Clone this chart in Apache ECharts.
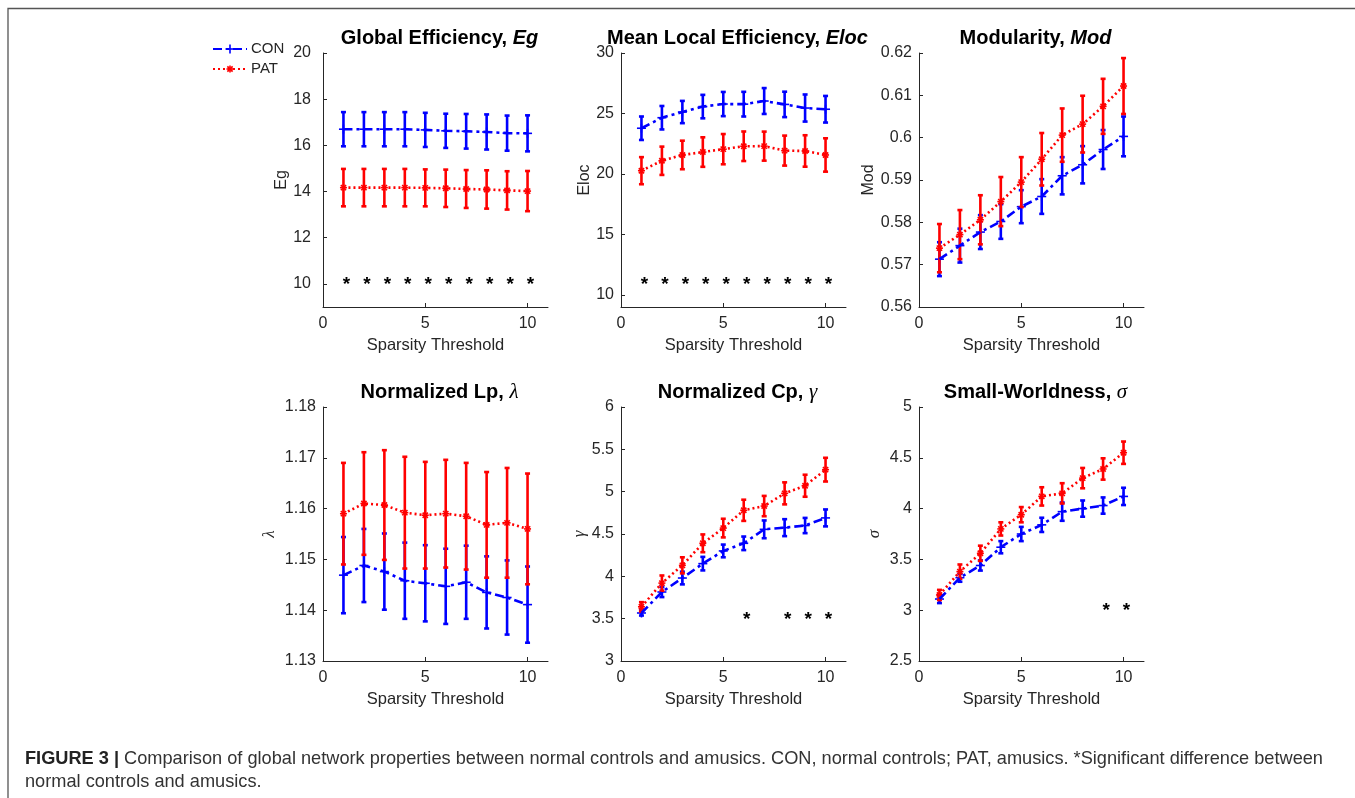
<!DOCTYPE html>
<html>
<head>
<meta charset="utf-8">
<script src="https://cdn.jsdelivr.net/npm/echarts@6/dist/echarts.min.js"></script>
<style>
  html, body { margin: 0; padding: 0; background: #fff; }
  #chart { width: 1355px; height: 798px; }
</style>
</head>
<body>
<div id="chart"></div>
<script>
// sparsity thresholds
const xs = [1, 2, 3, 4, 5, 6, 7, 8, 9, 10];

// Global efficiency
const egCon    = [16.70, 16.70, 16.70, 16.70, 16.67, 16.63, 16.61, 16.58, 16.53, 16.52];
const egConErr = [0.74, 0.74, 0.74, 0.74, 0.74, 0.74, 0.75, 0.76, 0.76, 0.78];
const egPat    = [14.17, 14.17, 14.17, 14.17, 14.16, 14.14, 14.11, 14.09, 14.05, 14.02];
const egPatErr = [0.81, 0.81, 0.81, 0.81, 0.80, 0.81, 0.82, 0.83, 0.83, 0.87];

// Mean local efficiency
const elocCon    = [23.78, 24.65, 25.12, 25.57, 25.78, 25.77, 26.03, 25.75, 25.45, 25.35];
const elocConErr = [0.97, 0.97, 0.92, 0.97, 1.00, 1.02, 1.07, 1.05, 1.12, 1.10];
const elocPat    = [20.27, 21.09, 21.57, 21.81, 22.05, 22.29, 22.30, 21.93, 21.90, 21.57];
const elocPatErr = [1.12, 1.17, 1.18, 1.22, 1.25, 1.22, 1.20, 1.24, 1.30, 1.38];

// Modularity
const modCon    = [0.5713, 0.5745, 0.5777, 0.5802, 0.5837, 0.5861, 0.5910, 0.5936, 0.5972, 0.6003];
const modConErr = [0.0040, 0.0040, 0.0040, 0.0041, 0.0039, 0.0041, 0.0044, 0.0044, 0.0046, 0.0047];
const modPat    = [0.5739, 0.5771, 0.5806, 0.5849, 0.5895, 0.5949, 0.6006, 0.6032, 0.6074, 0.6122];
const modPatErr = [0.0057, 0.0058, 0.0058, 0.0058, 0.0059, 0.0062, 0.0063, 0.0067, 0.0065, 0.0066];

// Normalized Lp (lambda)
const lamCon    = [1.1469, 1.1488, 1.1476, 1.1458, 1.1453, 1.1447, 1.1455, 1.1435, 1.1425, 1.1411];
const lamConErr = [0.0075, 0.0072, 0.0075, 0.0075, 0.0075, 0.0074, 0.0072, 0.0071, 0.0073, 0.0075];
const lamPat    = [1.1590, 1.1610, 1.1607, 1.1592, 1.1587, 1.1590, 1.1585, 1.1568, 1.1572, 1.1560];
const lamPatErr = [0.0100, 0.0101, 0.0108, 0.0110, 0.0105, 0.0106, 0.0105, 0.0104, 0.0108, 0.0109];

// Normalized Cp (gamma)
const gamCon    = [3.567, 3.815, 3.98, 4.15, 4.30, 4.39, 4.555, 4.575, 4.60, 4.69];
const gamConErr = [0.03, 0.06, 0.075, 0.08, 0.075, 0.08, 0.105, 0.10, 0.09, 0.10];
const gamPat    = [3.64, 3.92, 4.13, 4.39, 4.57, 4.78, 4.83, 4.98, 5.07, 5.26];
const gamPatErr = [0.055, 0.09, 0.095, 0.105, 0.11, 0.125, 0.12, 0.13, 0.13, 0.14];

// Small-worldness (sigma)
const sigCon    = [3.11, 3.32, 3.44, 3.62, 3.75, 3.84, 3.97, 4.00, 4.03, 4.12];
const sigConErr = [0.04, 0.04, 0.05, 0.06, 0.07, 0.07, 0.09, 0.08, 0.08, 0.085];
const sigPat    = [3.15, 3.38, 3.56, 3.80, 3.94, 4.12, 4.15, 4.30, 4.39, 4.55];
const sigPatErr = [0.05, 0.07, 0.075, 0.065, 0.075, 0.09, 0.10, 0.10, 0.105, 0.11];

// significance marks (*)
const egStars = [1, 2, 3, 4, 5, 6, 7, 8, 9, 10],  egStarY = 10.14;
const elocStars = [1, 2, 3, 4, 5, 6, 7, 8, 9, 10], elocStarY = 11.18;
const gamStars = [6, 8, 9, 10], gamStarY = 3.54;
const sigStars = [9, 10], sigStarY = 3.03;

// tick labels
const xTicks = [0, 5, 10];
const egTicks = [10, 12, 14, 16, 18, 20];
const elocTicks = [10, 15, 20, 25, 30];
const modTicks = [0.56, 0.57, 0.58, 0.59, 0.6, 0.61, 0.62];
const lamTicks = [1.13, 1.14, 1.15, 1.16, 1.17, 1.18];
const gamTicks = [3, 3.5, 4, 4.5, 5, 5.5, 6];
const sigTicks = [2.5, 3, 3.5, 4, 4.5, 5];

const SANS = '"Liberation Sans", Arial, Helvetica, sans-serif';
const SERIF = '"Liberation Serif", "Times New Roman", serif';
const AX = '#262626';
const BLUE = '#0000ff';
const RED = '#ff0000';

const panels = [
  { t: '{b|Global Efficiency, }{bi|Eg}', yName: 'Eg', greek: false, min: 9, max: 20, ticks: egTicks,
    con: egCon, conErr: egConErr, pat: egPat, patErr: egPatErr, stars: egStars, starY: egStarY, gap: 24, lm: 12 },
  { t: '{b|Mean Local Efficiency, }{bi|Eloc}', yName: 'Eloc', greek: false, min: 9, max: 30, ticks: elocTicks,
    con: elocCon, conErr: elocConErr, pat: elocPat, patErr: elocPatErr, stars: elocStars, starY: elocStarY, gap: 26, lm: 7 },
  { t: '{b|Modularity, }{bi|Mod}', yName: 'Mod', greek: false, min: 0.56, max: 0.62, ticks: modTicks,
    con: modCon, conErr: modConErr, pat: modPat, patErr: modPatErr, stars: [], starY: 0, gap: 39, lm: 7 },
  { t: '{b|Normalized Lp, }{g|λ}', yName: 'λ', greek: true, min: 1.13, max: 1.18, ticks: lamTicks,
    con: lamCon, conErr: lamConErr, pat: lamPat, patErr: lamPatErr, stars: [], starY: 0, gap: 45, lm: 7 },
  { t: '{b|Normalized Cp, }{g|γ}', yName: 'γ', greek: true, min: 3, max: 6, ticks: gamTicks,
    con: gamCon, conErr: gamConErr, pat: gamPat, patErr: gamPatErr, stars: gamStars, starY: gamStarY, gap: 33, lm: 7 },
  { t: '{b|Small-Worldness, }{g|σ}', yName: 'σ', greek: true, min: 2.5, max: 5, ticks: sigTicks,
    con: sigCon, conErr: sigConErr, pat: sigPat, patErr: sigPatErr, stars: sigStars, starY: sigStarY, gap: 36, lm: 7 }
];

const lefts = [323, 621, 919];
const tops = [53, 407];
const W = 225, H = 254;

function markerShapes(kind, x, y, color) {
  const st = { stroke: color, lineWidth: 1.6 };
  const s = kind === 'plus' ? 4.5 : 3.5;
  const out = [
    { type: 'line', shape: { x1: x - s, y1: y, x2: x + s, y2: y }, style: st },
    { type: 'line', shape: { x1: x, y1: y - s, x2: x, y2: y + s }, style: st }
  ];
  if (kind === 'star') {
    const d = s * 0.75;
    out.push({ type: 'line', shape: { x1: x - d, y1: y - d, x2: x + d, y2: y + d }, style: st });
    out.push({ type: 'line', shape: { x1: x - d, y1: y + d, x2: x + d, y2: y - d }, style: st });
  }
  return out;
}

function errorBars(color, marker) {
  return function (params, api) {
    const x = api.value(0), m = api.value(1), e = api.value(2);
    const p = api.coord([x, m]);
    const hi = api.coord([x, m + e]);
    const lo = api.coord([x, m - e]);
    const st = { stroke: color, lineWidth: 2.6 };
    const cap = 2.5;
    const kids = [
      { type: 'line', shape: { x1: p[0], y1: hi[1], x2: p[0], y2: lo[1] }, style: st },
      { type: 'line', shape: { x1: p[0] - cap, y1: hi[1], x2: p[0] + cap, y2: hi[1] }, style: st },
      { type: 'line', shape: { x1: p[0] - cap, y1: lo[1], x2: p[0] + cap, y2: lo[1] }, style: st }
    ];
    return { type: 'group', children: kids.concat(markerShapes(marker, p[0], p[1], color)) };
  };
}

function starItem(params, api) {
  const p = api.coord([api.value(0), api.value(1)]);
  return {
    type: 'text', x: p[0] + 3, y: p[1] + 4,
    style: { text: '*', fill: '#000', font: 'bold 19px ' + SANS, align: 'center', verticalAlign: 'middle' }
  };
}

const grid = [], xAxis = [], yAxis = [], series = [], title = [];

panels.forEach((pn, i) => {
  const left = lefts[i % 3], top = tops[Math.floor(i / 3)];
  grid.push({ left: left, top: top, width: W, height: H });
  title.push({
    text: pn.t, left: left + W / 2 - 1, top: top - 30, textAlign: 'center',
    textStyle: {
      fontWeight: 'normal',
      rich: {
        b: { fontFamily: SANS, fontWeight: 'bold', fontSize: 20, color: '#000' },
        bi: { fontFamily: SANS, fontWeight: 'bold', fontStyle: 'italic', fontSize: 20, color: '#000' },
        g: { fontFamily: SERIF, fontWeight: 'normal', fontStyle: 'italic', fontSize: 21, color: '#000' }
      }
    }
  });
  xAxis.push({
    gridIndex: i, type: 'value', min: 0, max: 11,
    name: 'Sparsity Threshold', nameLocation: 'middle', nameGap: 30,
    nameTextStyle: { fontFamily: SANS, fontSize: 16.5, color: AX },
    axisLine: { lineStyle: { color: AX, width: 1 } },
    axisTick: { inside: true, length: 4, lineStyle: { color: AX }, customValues: xTicks },
    axisLabel: { customValues: xTicks, margin: 9, fontFamily: SANS, fontSize: 16, color: AX },
    splitLine: { show: false }
  });
  yAxis.push({
    gridIndex: i, type: 'value', min: pn.min, max: pn.max,
    name: pn.yName, nameLocation: 'middle', nameGap: pn.gap,
    nameTextStyle: pn.greek
      ? { fontFamily: SERIF, fontStyle: 'italic', fontSize: 17, color: AX }
      : { fontFamily: SANS, fontSize: 16, color: AX },
    axisLine: { show: true, lineStyle: { color: AX, width: 1 } },
    axisTick: { show: true, inside: true, length: 4, lineStyle: { color: AX }, customValues: pn.ticks },
    axisLabel: { customValues: pn.ticks, margin: pn.lm, fontFamily: SANS, fontSize: 16, color: AX,
      formatter: v => String(+v.toFixed(3)) },
    splitLine: { show: false }
  });

  const conData = xs.map((x, k) => [x, pn.con[k], pn.conErr[k]]);
  const patData = xs.map((x, k) => [x, pn.pat[k], pn.patErr[k]]);

  series.push({
    type: 'line', name: 'CON', xAxisIndex: i, yAxisIndex: i, symbol: 'none', silent: true,
    data: xs.map((x, k) => [x, pn.con[k]]),
    lineStyle: { color: BLUE, width: 2.6, type: [9, 4, 3, 4] }
  });
  series.push({
    type: 'custom', name: 'CON', xAxisIndex: i, yAxisIndex: i, silent: true,
    renderItem: errorBars(BLUE, 'plus'), data: conData, encode: { x: 0, y: 1 }
  });
  series.push({
    type: 'line', name: 'PAT', xAxisIndex: i, yAxisIndex: i, symbol: 'none', silent: true,
    data: xs.map((x, k) => [x, pn.pat[k]]),
    lineStyle: { color: RED, width: 2.6, type: [2, 3] }
  });
  series.push({
    type: 'custom', name: 'PAT', xAxisIndex: i, yAxisIndex: i, silent: true,
    renderItem: errorBars(RED, 'star'), data: patData, encode: { x: 0, y: 1 }
  });
  if (pn.stars.length) {
    series.push({
      type: 'custom', xAxisIndex: i, yAxisIndex: i, silent: true,
      renderItem: starItem, data: pn.stars.map(x => [x, pn.starY]), encode: { x: 0, y: 1 }
    });
  }
});

// legend, frame and caption
const legendKids = [
  { type: 'line', shape: { x1: 213, y1: 49, x2: 247, y2: 49 }, style: { stroke: BLUE, lineWidth: 2.2, lineDash: [9, 4, 3, 4] } },
  { type: 'text', x: 251, y: 49, style: { text: 'CON', font: '15px ' + SANS, fill: AX, verticalAlign: 'middle' } },
  { type: 'line', shape: { x1: 213, y1: 69, x2: 247, y2: 69 }, style: { stroke: RED, lineWidth: 2.2, lineDash: [2, 3] } },
  { type: 'text', x: 251, y: 69, style: { text: 'PAT', font: '15px ' + SANS, fill: AX, verticalAlign: 'middle' } }
].concat(markerShapes('plus', 230, 49, BLUE), markerShapes('star', 230, 69, RED));

const chart = echarts.init(document.getElementById('chart'), null, { renderer: 'canvas' });
chart.setOption({
  animation: false,
  backgroundColor: '#fff',
  title: title,
  grid: grid,
  xAxis: xAxis,
  yAxis: yAxis,
  series: series,
  graphic: [
    { type: 'group', children: legendKids },
    { type: 'polyline', shape: { points: [[8, 798], [8, 8.5], [1355, 8.5]] }, style: { stroke: '#555', lineWidth: 1.3, fill: null } },
    {
      type: 'text', x: 25, y: 759,
      style: {
        text: '{b|FIGURE 3 |} Comparison of global network properties between normal controls and amusics. CON, normal controls; PAT, amusics. *Significant difference between',
        font: '18.2px ' + SANS, fill: '#333', verticalAlign: 'middle',
        rich: { b: { fontWeight: 'bold', fontSize: 18.2, fontFamily: SANS, fill: '#222' } }
      }
    },
    {
      type: 'text', x: 25, y: 782,
      style: { text: 'normal controls and amusics.', font: '18.2px ' + SANS, fill: '#333', verticalAlign: 'middle' }
    }
  ]
});
</script>
</body>
</html>
